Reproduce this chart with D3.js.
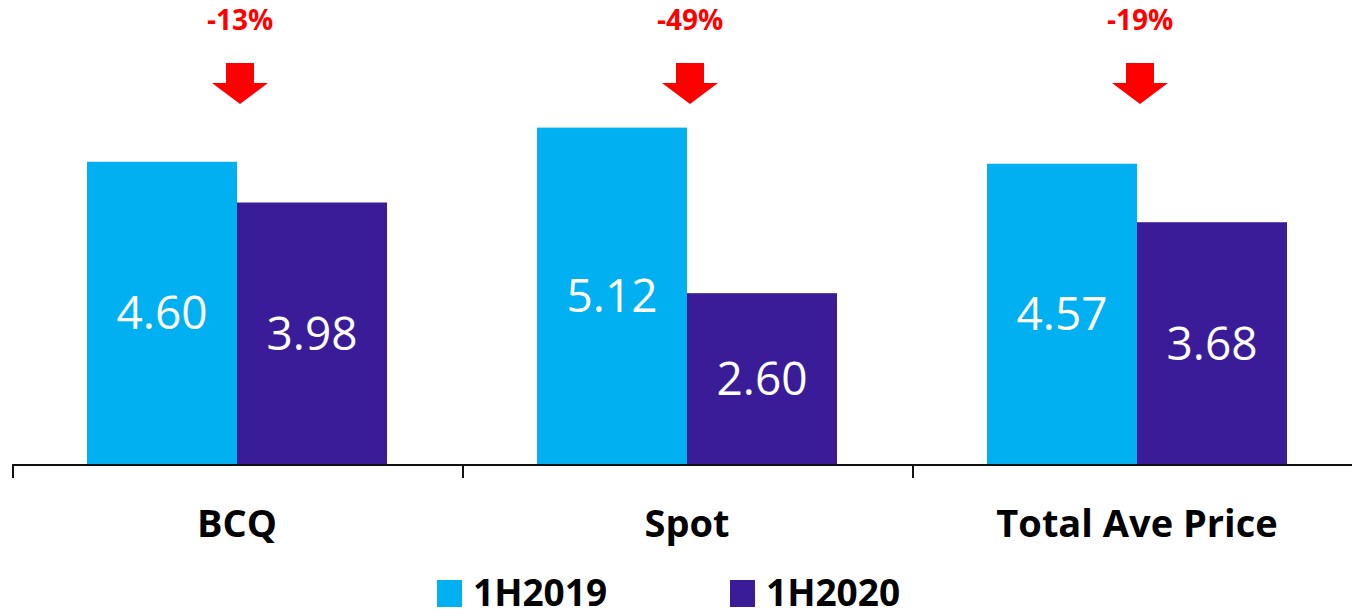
<!DOCTYPE html>
<html><head><meta charset="utf-8">
<script src="https://cdn.jsdelivr.net/npm/d3@7"></script>
<style>html,body{margin:0;padding:0;background:#fff;}svg{display:block;}</style>
</head><body>
<svg id="chart" width="1352" height="616"></svg>
<script>
const categories = ["BCQ", "Spot", "Total Ave Price"];
const seriesNames = ["1H2019", "1H2020"];
const values2019 = [4.60, 5.12, 4.57];
const values2020 = [3.98, 2.60, 3.68];
const changeLabels = ["-13%", "-49%", "-19%"];
const colors = ["#00B0F0", "#3B1C98"];

const svg = d3.select("#chart");
const font = "'Open Sans', 'Liberation Sans', sans-serif";
const baseY = 464;

const x0 = d3.scaleBand().domain(categories).range([12, 1362]).padding(0);
const x1 = d3.scaleBand().domain(seriesNames).range([75, 375]).padding(0);
const y = d3.scaleLinear().domain([0, 6]).range([baseY, baseY - 6 * 65.7]);

const data = categories.map((c, i) => ({cat: c, vals: [values2019[i], values2020[i]]}));

const g = svg.selectAll("g.cat").data(data).join("g")
  .attr("class", "cat")
  .attr("transform", d => `translate(${x0(d.cat)},0)`);

g.selectAll("rect").data(d => d.vals.map((v, j) => ({s: seriesNames[j], v, j}))).join("rect")
  .attr("x", d => x1(d.s))
  .attr("width", x1.bandwidth())
  .attr("y", d => y(d.v))
  .attr("height", d => y(0) - y(d.v))
  .attr("fill", d => colors[d.j]);

g.selectAll("text.val").data(d => d.vals.map((v, j) => ({s: seriesNames[j], v, j}))).join("text")
  .attr("class", "val")
  .attr("x", d => x1(d.s) + x1.bandwidth() / 2)
  .attr("y", d => (y(d.v) + y(0)) / 2)
  .attr("dy", "0.36em")
  .attr("text-anchor", "middle")
  .attr("fill", "#fff")
  .attr("font-family", font)
  .attr("font-weight", 500)
  .attr("font-size", 46)
  .text(d => d.v.toFixed(2));

// axis
svg.append("line").attr("x1", 12).attr("x2", 1352).attr("y1", baseY + 1).attr("y2", baseY + 1)
  .attr("stroke", "#111").attr("stroke-width", 2);
svg.selectAll("line.tick").data(categories).join("line").attr("class", "tick")
  .attr("x1", d => x0(d) + 1).attr("x2", d => x0(d) + 1)
  .attr("y1", baseY).attr("y2", baseY + 14)
  .attr("stroke", "#111").attr("stroke-width", 2);

svg.selectAll("text.cat").data(categories).join("text").attr("class", "cat")
  .attr("x", d => x0(d) + x0.bandwidth() / 2)
  .attr("y", 537)
  .attr("text-anchor", "middle")
  .attr("font-family", font).attr("font-weight", "bold").attr("font-size", 38)
  .attr("fill", "#000")
  .text(d => d);

// change labels and arrows
const chg = svg.selectAll("g.chg").data(categories).join("g").attr("class", "chg")
  .attr("transform", (d, i) => `translate(${x0(d) + x0.bandwidth() / 2 + 3},0)`);
chg.append("text").attr("x", 0).attr("y", 30).attr("text-anchor", "middle")
  .attr("font-family", font).attr("font-weight", "bold").attr("font-size", 28)
  .attr("fill", "#FF0000")
  .text((d, i) => changeLabels[i]);
chg.append("path")
  .attr("d", "M-14,63 L14,63 L14,83 L28,83 L0,104 L-28,83 L-14,83 Z")
  .attr("fill", "#FF0000");

// legend
const legendX = [437, 730];
const lg = svg.selectAll("g.leg").data(seriesNames).join("g").attr("class", "leg")
  .attr("transform", (d, i) => `translate(${legendX[i]},0)`);
lg.append("rect").attr("x", 0).attr("y", 580).attr("width", 25).attr("height", 27)
  .attr("fill", (d, i) => colors[i]);
lg.append("text").attr("x", 36).attr("y", 606)
  .attr("font-family", font).attr("font-weight", "bold").attr("font-size", 37)
  .attr("fill", "#000").text(d => d);
</script>
</body></html>
